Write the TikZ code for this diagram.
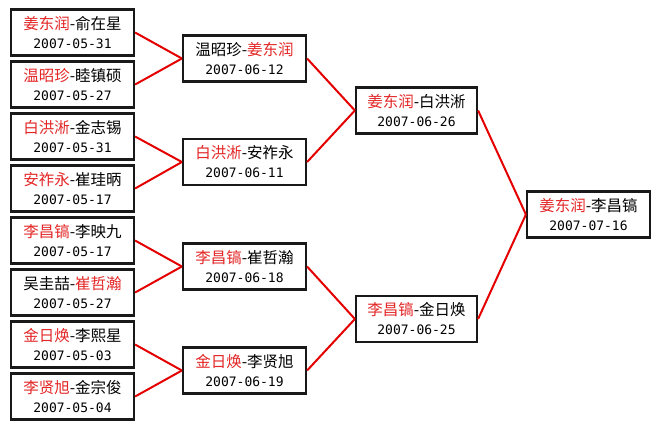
\documentclass[tikz,border=0pt]{standalone}
\usepackage{fontspec}
\newfontfamily\cjk{Noto Sans CJK SC}
\newfontfamily\dmono{DejaVu Sans Mono}
\definecolor{namered}{RGB}{228,38,38}
\newcommand\R[1]{\textcolor{namered}{#1}}
\newcommand\D[1]{{\fontsize{13}{19}\dmono #1}}
\begin{document}
\begin{tikzpicture}[x=1pt,y=-1pt,
  box/.style={draw=black!90, line width=2.2pt, minimum width=123pt, minimum height=46pt,
    inner sep=0pt, align=center, font=\fontsize{15.5}{19}\selectfont\cjk, fill=white},
  link/.style={draw=red!90!black, line width=2pt}]
\fill[white] (0,0) rectangle (660,429);
\useasboundingbox (0,0) rectangle (660,429);
% round 1
\node[box] (a1) at (72.5,32.5)  {\R{姜东润}-俞在星\\\D{2007-05-31}};
\node[box] (a2) at (72.5,84.5)  {\R{温昭珍}-睦镇硕\\\D{2007-05-27}};
\node[box] (a3) at (72.5,136.5) {\R{白洪淅}-金志锡\\\D{2007-05-31}};
\node[box] (a4) at (72.5,188.5) {\R{安祚永}-崔珪昞\\\D{2007-05-17}};
\node[box] (a5) at (72.5,240.5) {\R{李昌镐}-李映九\\\D{2007-05-17}};
\node[box] (a6) at (72.5,292.5) {吴圭喆-\R{崔哲瀚}\\\D{2007-05-27}};
\node[box] (a7) at (72.5,344.5) {\R{金日焕}-李熙星\\\D{2007-05-03}};
\node[box] (a8) at (72.5,396.5) {\R{李贤旭}-金宗俊\\\D{2007-05-04}};
% round 2
\node[box] (b1) at (244.5,58.5)  {温昭珍-\R{姜东润}\\\D{2007-06-12}};
\node[box] (b2) at (244.5,162)   {\R{白洪淅}-安祚永\\\D{2007-06-11}};
\node[box] (b3) at (244.5,266.5) {\R{李昌镐}-崔哲瀚\\\D{2007-06-18}};
\node[box] (b4) at (244.5,370.5) {\R{金日焕}-李贤旭\\\D{2007-06-19}};
% round 3
\node[box, minimum width=121pt] (c1) at (416.5,110.5) {\R{姜东润}-白洪淅\\\D{2007-06-26}};
\node[box, minimum width=121pt] (c2) at (416.5,319)   {\R{李昌镐}-金日焕\\\D{2007-06-25}};
% final
\node[box] (d1) at (588.5,214.5) {\R{姜东润}-李昌镐\\\D{2007-07-16}};
% connectors
\draw[link] (a1.east) -- (b1.west);
\draw[link] (a2.east) -- (b1.west);
\draw[link] (a3.east) -- (b2.west);
\draw[link] (a4.east) -- (b2.west);
\draw[link] (a5.east) -- (b3.west);
\draw[link] (a6.east) -- (b3.west);
\draw[link] (a7.east) -- (b4.west);
\draw[link] (a8.east) -- (b4.west);
\draw[link] (b1.east) -- (c1.west);
\draw[link] (b2.east) -- (c1.west);
\draw[link] (b3.east) -- (c2.west);
\draw[link] (b4.east) -- (c2.west);
\draw[link] (c1.east) -- (d1.west);
\draw[link] (c2.east) -- (d1.west);
\end{tikzpicture}
\end{document}
